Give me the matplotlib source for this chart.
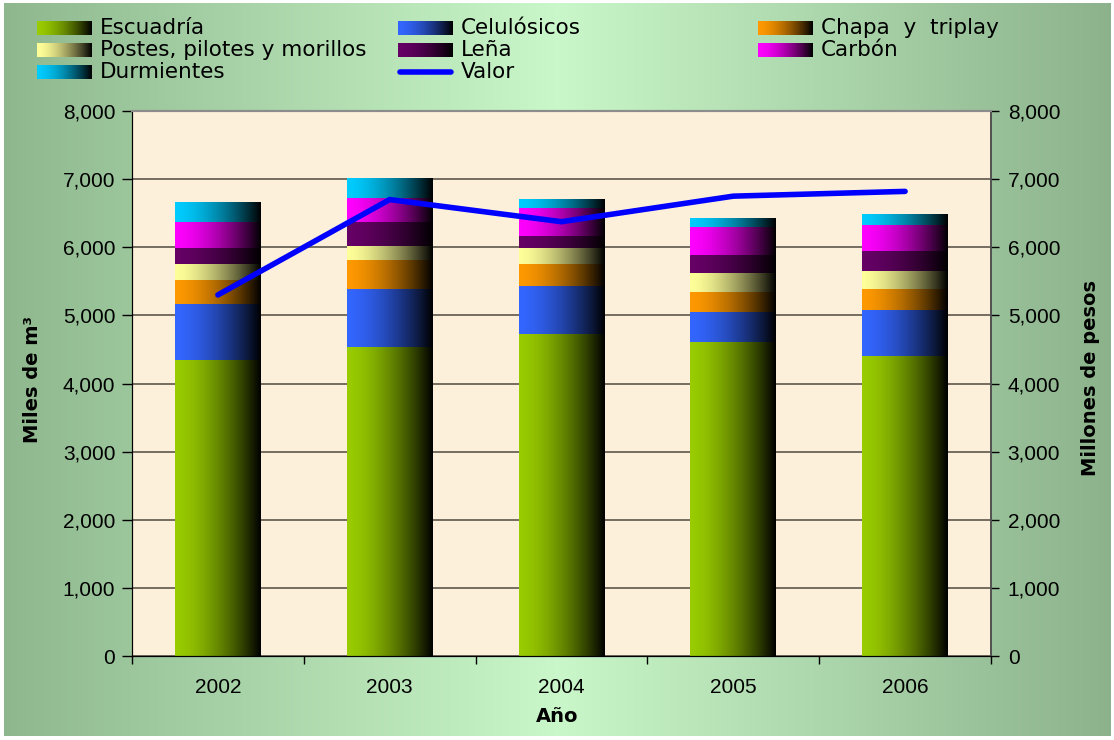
import numpy as np
import matplotlib.pyplot as plt
from matplotlib.colors import to_rgb
from matplotlib.ticker import FuncFormatter

plt.rcParams['font.family'] = ['Liberation Sans', 'DejaVu Sans']

# Data (miles de m3 por producto, valor en millones de pesos)
years = ['2002', '2003', '2004', '2005', '2006']
escuadria = [4350, 4530, 4730, 4615, 4410]
celulosicos = [820, 850, 700, 440, 675]
chapa_triplay = [350, 440, 320, 295, 295]
postes = [235, 205, 235, 265, 265]
lena = [235, 350, 175, 265, 295]
carbon = [380, 350, 410, 410, 380]
durmientes = [280, 280, 130, 130, 160]
valor = [5300, 6700, 6375, 6750, 6820]

series_names = ['Escuadría', 'Celulósicos', 'Chapa  y  triplay',
                'Postes, pilotes y morillos', 'Leña', 'Carbón', 'Durmientes']
series_values = [escuadria, celulosicos, chapa_triplay, postes, lena, carbon, durmientes]
series_colors = ['#99CC00', '#3366FF', '#FF9900', '#FFFF99', '#660066', '#FF00FF', '#00CCFF']

W, H = 1114, 740


def gradient(color, n=256):
    # colour on the left fading to black on the right
    t = np.linspace(0, 1, n)
    f = 1 - t ** 1.6
    return (np.array(to_rgb(color))[None, :] * f[:, None])[None, :, :]


fig = plt.figure(figsize=(W / 100, H / 100), dpi=100, facecolor='white')

# background panel with horizontal green gradient
bg = fig.add_axes([0, 0, 1, 1], zorder=-1)
bg.set_xlim(0, W)
bg.set_ylim(H, 0)
bg.axis('off')
xs = np.linspace(0, 1, 512)
left_c = np.array([0.56, 0.72, 0.56])
mid_c = np.array([0.79, 0.97, 0.79])
right_c = np.array([0.55, 0.70, 0.55])
bg_rgb = np.where(xs[:, None] < 0.5,
                  left_c + (mid_c - left_c) * (xs[:, None] / 0.5),
                  mid_c + (right_c - mid_c) * ((xs[:, None] - 0.5) / 0.5))
bg.imshow(bg_rgb[None, :, :], extent=(4, W - 3, H - 4, 3), aspect='auto',
          interpolation='bilinear')

# main axes
ax = fig.add_axes([132 / W, 1 - 656 / H, (991 - 132) / W, (656 - 111) / H])
ax.set_facecolor('#FDF0DA')
x = np.arange(len(years))
bottom = np.zeros(len(years))
for vals, col in zip(series_values, series_colors):
    bars = ax.bar(x, vals, 0.5, bottom=bottom, color='none', linewidth=0)
    for r in bars:
        ax.imshow(gradient(col), extent=(r.get_x(), r.get_x() + r.get_width(),
                                         r.get_y(), r.get_y() + r.get_height()),
                  aspect='auto', interpolation='bilinear', zorder=2)
    bottom += np.array(vals)

ax.set_xlim(-0.5, len(years) - 0.5)
ax.set_ylim(0, 8000)
ax.set_yticks(np.arange(0, 8001, 1000))
ax.yaxis.set_major_formatter(FuncFormatter(lambda v, p: f'{v:,.0f}'))
ax.yaxis.grid(True, color='#5f574d', lw=1.2)
ax.set_axisbelow(True)
ax.set_xticks(x)
ax.set_xticklabels(years)
ax.set_xticks(np.arange(-0.5, len(years), 1), minor=True)
ax.tick_params(axis='x', which='major', length=0, pad=16, labelsize=15)
ax.tick_params(axis='x', which='minor', length=6, direction='out', width=1)
ax.tick_params(axis='y', length=7, direction='out', width=1, pad=5, labelsize=15)

# secondary axis: value line
ax2 = ax.twinx()
ax2.plot(x, valor, color='#0000FF', lw=4, solid_capstyle='round', zorder=3)
ax2.set_ylim(0, 8000)
ax2.set_yticks(np.arange(0, 8001, 1000))
ax2.yaxis.set_major_formatter(FuncFormatter(lambda v, p: f'{v:,.0f}'))
ax2.tick_params(axis='y', length=6, direction='out', width=1, pad=6, labelsize=15)

for a in (ax, ax2):
    a.spines['top'].set_color('#8c8c8c')
    a.spines['top'].set_linewidth(1.5)
    a.spines['right'].set_color('#505050')
    a.spines['right'].set_linewidth(1.2)
    a.spines['left'].set_color('black')
    a.spines['bottom'].set_color('black')

# axis titles
fig.text(32 / W, 1 - 380 / H, 'Miles de m³', rotation=90, ha='center', va='center',
         fontsize=14, fontweight='bold', family='DejaVu Sans')
fig.text(1090 / W, 1 - 378 / H, 'Millones de pesos', rotation=90, ha='center', va='center',
         fontsize=14, fontweight='bold', family='DejaVu Sans')
fig.text(557 / W, 1 - 717 / H, 'Año', ha='center', va='center',
         fontsize=14, fontweight='bold', family='DejaVu Sans')

# legend (row-major, three columns)
col_x = [37, 398, 758]
row_y = [28, 50, 72]
entries = [(n, c) for n, c in zip(series_names, series_colors)] + [('Valor', None)]
for i, (name, col) in enumerate(entries):
    cx = col_x[i % 3]
    cy = row_y[i // 3]
    if col is None:
        bg.plot([cx + 2, cx + 53], [cy, cy], color='#0000FF', lw=4, solid_capstyle='round')
    else:
        bg.imshow(gradient(col), extent=(cx, cx + 55, cy + 7, cy - 7),
                  aspect='auto', interpolation='bilinear')
    bg.text(cx + 63, cy, name, ha='left', va='center', fontsize=15.5,
            family='DejaVu Sans', color='black')
bg.set_xlim(0, W)
bg.set_ylim(H, 0)

fig.savefig('out.png', dpi=100, facecolor='white')
